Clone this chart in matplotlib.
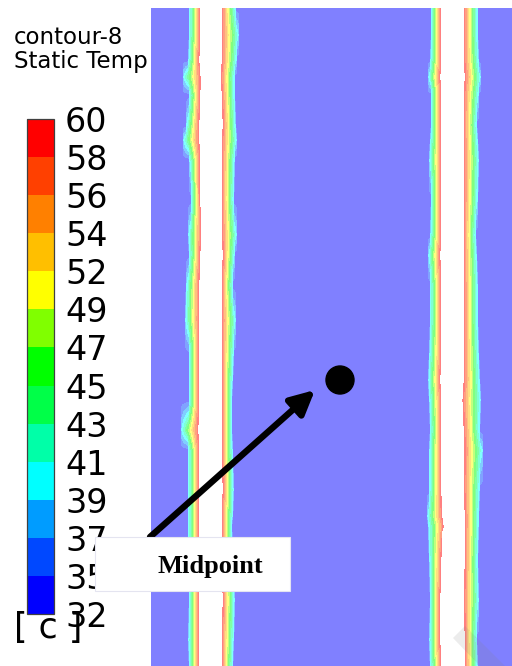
import numpy as np
import matplotlib

matplotlib.use("Agg")
import matplotlib.pyplot as plt  # noqa: E402
from matplotlib.colors import ListedColormap, BoundaryNorm, to_rgb  # noqa: E402
from matplotlib.cm import ScalarMappable  # noqa: E402
from matplotlib.patches import Circle, Rectangle, Polygon  # noqa: E402

plt.rcParams["font.family"] = ["DejaVu Sans"]

# colour levels of the legend (deg C) and their printed labels
levels = [32.5, 34.6, 36.7, 38.8, 40.9, 43.1, 45.2, 47.3, 49.4, 51.5, 53.6, 55.7, 57.8, 60.0]
tick_labels = ["32", "35", "37", "39", "41", "43", "45", "47", "49", "52", "54", "56", "58", "60"]
band_colors = ["#0000ff", "#0048ff", "#009cff", "#00ffff", "#00ffa8", "#00ff48", "#00ff00",
               "#80ff00", "#ffff00", "#ffbf00", "#ff8000", "#ff4000", "#ff0000"]

# field: rows (pixel y) and the edges of the two hot strips (pixel x)
rows = [8, 35, 60, 77, 95, 125, 140, 160, 200, 235, 255, 285, 320, 355, 380, 400, 430,
        450, 490, 516, 525, 560, 600, 640, 666]
s1_outer_l = [190, 190, 189, 184, 190, 187, 184, 190, 192, 189, 190, 187, 186, 190, 190,
              190, 182, 189, 189, 189, 189, 189, 190, 189, 190]
s1_inner_l = [201, 201, 200, 202, 201, 200, 200, 201, 201, 202, 201, 200, 200, 200, 200,
              200, 199, 200, 200, 200, 200, 200, 200, 200, 200]
s1_inner_r = [221, 221, 221, 220, 221, 222, 221, 221, 221, 221, 222, 221, 221, 221, 221,
              221, 221, 221, 222, 221, 221, 221, 222, 221, 221]
s1_outer_r = [235, 238, 236, 234, 234, 235, 236, 234, 233, 236, 234, 232, 235, 233, 232,
              231, 231, 232, 233, 232, 231, 232, 234, 233, 232]
s2_outer_l = [432, 432, 431, 429, 432, 432, 431, 430, 432, 431, 429, 431, 431, 430, 429,
              430, 431, 430, 430, 428, 429, 430, 431, 430, 431]
s2_inner_l = [442, 442, 442, 441, 442, 442, 442, 442, 442, 442, 441, 442, 442, 442, 441,
              442, 442, 442, 442, 443, 445, 442, 441, 441, 442]
s2_inner_r = [463, 463, 463, 464, 463, 463, 463, 463, 463, 463, 463, 463, 463, 463, 463,
              461, 463, 463, 463, 464, 464, 464, 463, 464, 464]
s2_outer_r = [477, 477, 478, 480, 478, 476, 477, 478, 477, 475, 476, 477, 477, 478, 479,
              480, 479, 482, 479, 478, 478, 477, 478, 476, 477]
t_background = 33.5
t_edge = 39.0
t_hot = 60.3
t_core = 70.0

W, H = 512, 666
fig = plt.figure(figsize=(W / 100, H / 100), dpi=100)
fig.patch.set_facecolor("white")


def fx(px):
    return px / W


def fy(py):
    return 1 - py / H


def strip_profile(o_l, i_l, i_r, o_r):
    # sharp step from the background into the fringe, then a ramp up to the hot core
    xp = [o_l - 0.6, o_l, i_l, i_l + 0.6, i_r - 0.6, i_r, o_r, o_r + 0.6]
    fp = [t_background, t_edge, t_hot, t_core, t_core, t_hot, t_edge, t_background]
    return xp, fp


# contour panel
ax = fig.add_axes([fx(151), 0, fx(W) - fx(151), fy(8)])
ax.set_zorder(1)
xs = np.arange(151, W + 0.5, 0.5)
T = []
for i in range(len(rows)):
    p1, v1 = strip_profile(s1_outer_l[i], s1_inner_l[i], s1_inner_r[i], s1_outer_r[i])
    p2, v2 = strip_profile(s2_outer_l[i], s2_inner_l[i], s2_inner_r[i], s2_outer_r[i])
    xp = [151] + p1 + p2 + [W]
    fp = [t_background] + v1 + v2 + [t_background]
    T.append(np.interp(xs, xp, fp))
pastel = [tuple(0.5 * c + 0.5 for c in to_rgb(col)) for col in band_colors]
ax.contourf(xs, rows, np.array(T), levels=levels + [t_core + 10], colors=pastel + ["white"],
            antialiased=False)
ax.set_xlim(151, W)
ax.set_ylim(H, 8)
ax.axis("off")

# legend bar
cax = fig.add_axes([fx(27), fy(614), fx(54) - fx(27), fy(119) - fy(614)])
sm = ScalarMappable(norm=BoundaryNorm(levels, len(band_colors)), cmap=ListedColormap(band_colors))
cb = fig.colorbar(sm, cax=cax, ticks=levels, spacing="uniform")
cb.set_ticklabels(tick_labels)
cb.outline.set_edgecolor("#404040")
cb.outline.set_linewidth(0.9)
cax.tick_params(length=0, labelsize=24, pad=8, labelcolor="black")

# header text (hidden behind the panel where it runs over)
fig.text(fx(14), fy(44), "contour-8", fontsize=16.5, va="baseline", ha="left", zorder=0.5)
fig.text(fx(14), fy(68), "Static Temp", fontsize=16.5, va="baseline", ha="left", zorder=0.5)

# overlay in pixel coordinates
ov = fig.add_axes([0, 0, 1, 1])
ov.set_zorder(2)
ov.set_xlim(0, W)
ov.set_ylim(H, 0)
ov.patch.set_alpha(0)
ov.axis("off")

ov.text(14, 638, "[ c ]", fontsize=25, va="baseline", ha="left")
ov.annotate("", xy=(315, 390), xytext=(150, 537),
            arrowprops=dict(arrowstyle="-|>", mutation_scale=36, lw=4.6, color="black",
                            shrinkA=0, shrinkB=0))
ov.add_patch(Circle((340, 380), 14, color="black"))
ov.add_patch(Rectangle((95, 537), 195, 54, facecolor="white", edgecolor="#e4e4f0", lw=0.8, zorder=4))
ov.text(158, 573, "Midpoint", fontsize=19, fontweight="bold", family="Liberation Serif",
        va="baseline", ha="left", zorder=5)
ov.add_patch(Polygon([(453, 638), (465, 626), (505, 666), (480, 666)], closed=True,
                     facecolor="gray", alpha=0.15, lw=0))

fig.savefig("out.png", dpi=100)
